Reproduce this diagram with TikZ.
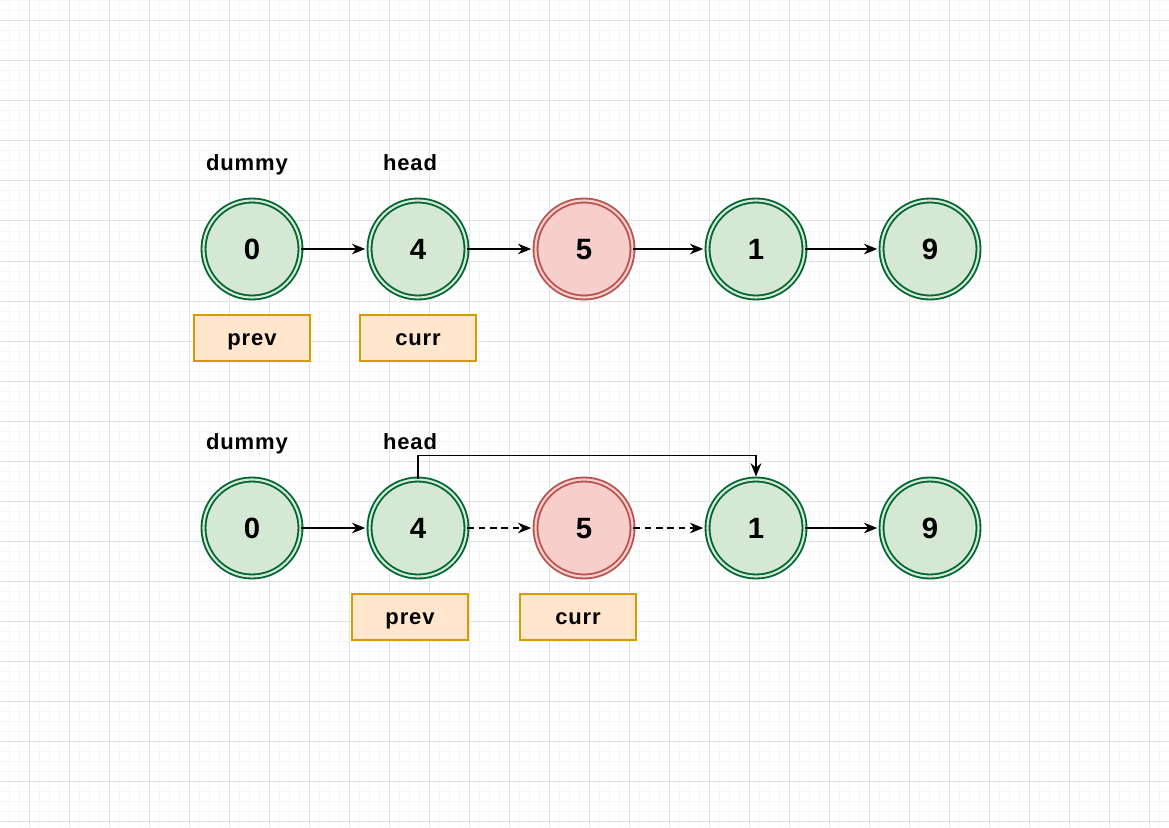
\documentclass[tikz,border=0pt]{standalone}
\usepackage{fontspec}
\setmainfont{Liberation Sans}
\usetikzlibrary{arrows.meta}

\definecolor{nodegreen}{HTML}{D5E8D4}
\definecolor{linegreen}{HTML}{006633}
\definecolor{nodered}{HTML}{F8CECC}
\definecolor{linered}{HTML}{B85450}
\definecolor{boxfill}{HTML}{FFE6CC}
\definecolor{boxline}{HTML}{D79B00}
\definecolor{gridmajor}{HTML}{E2E2E2}
\definecolor{gridminor}{HTML}{F5F5F5}

\tikzset{
  listnode/.style = {circle, minimum size=72.75pt, inner sep=0pt, line width=1.4pt,
                     double distance=1.6pt, text height=15pt, text depth=0pt,
                     font=\fontsize{22}{22}\selectfont\bfseries},
  keep/.style     = {listnode, draw=linegreen, double=nodegreen, fill=nodegreen},
  drop/.style     = {listnode, draw=linered, double=nodered, fill=nodered},
  ptr/.style      = {draw=boxline, fill=boxfill, line width=0.8pt, minimum width=87pt,
                     minimum height=34.5pt, inner sep=0pt, text height=13.5pt, text depth=2.5pt,
                     font=\fontsize{16.5}{17}\selectfont\bfseries\addfontfeature{LetterSpace=4}},
  tag/.style      = {inner sep=0pt, text height=13.5pt, text depth=2.5pt,
                     font=\fontsize{16.5}{17}\selectfont\bfseries\addfontfeature{LetterSpace=4}},
  link/.style     = {-{Stealth[length=10pt,width=8pt]}, line width=1.3pt, shorten >=2.5pt},
}

\begin{document}
\begin{tikzpicture}[x=0.75pt, y=-0.75pt]
\useasboundingbox (0,0) rectangle (1169,827);
\fill[white] (0,0) rectangle (1169,827);

% background grid
\foreach \x in {9,19,...,1169} \draw[gridminor, line width=0.75pt] (\x,0) -- (\x,827);
\foreach \y in {1,11,...,827} \draw[gridminor, line width=0.75pt] (0,\y) -- (1169,\y);
\foreach \x in {29,69,...,1169} \draw[gridmajor, line width=0.75pt] (\x,0) -- (\x,827);
\foreach \y in {21,61,...,827} \draw[gridmajor, line width=0.75pt] (0,\y) -- (1169,\y);

% before: prev on dummy, curr on head
\node[keep] (a0) at (252,249) {0};
\node[keep] (a4) at (418,249) {4};
\node[drop] (a5) at (584,249) {5};
\node[keep] (a1) at (756,249) {1};
\node[keep] (a9) at (930,249) {9};

\node[tag] (adummy) at (247,163) {dummy};
\node[tag] (ahead) at (410,163) {head};
\node[ptr] (aprev) at (252,338) {prev};
\node[ptr] (acurr) at (418,338) {curr};

\draw[link] (a0) -- (a4);
\draw[link] (a4) -- (a5);
\draw[link] (a5) -- (a1);
\draw[link] (a1) -- (a9);

% after: 5 is skipped
\node[keep] (b0) at (252,528) {0};
\node[keep] (b4) at (418,528) {4};
\node[drop] (b5) at (584,528) {5};
\node[keep] (b1) at (756,528) {1};
\node[keep] (b9) at (930,528) {9};

\node[tag] (bdummy) at (247,442) {dummy};
\node[tag] (bhead) at (410,442) {head};
\node[ptr] (bprev) at (410,617) {prev};
\node[ptr] (bcurr) at (578,617) {curr};

\draw[link] (b0) -- (b4);
\draw[link, dash pattern=on 5pt off 3.5pt] (b4) -- (b5);
\draw[link, dash pattern=on 5pt off 3.5pt] (b5) -- (b1);
\draw[link] (b1) -- (b9);
\draw[link, shorten >=1.5pt] (b4.north) -- ++(0,-23) -| (b1.north);
\end{tikzpicture}
\end{document}
